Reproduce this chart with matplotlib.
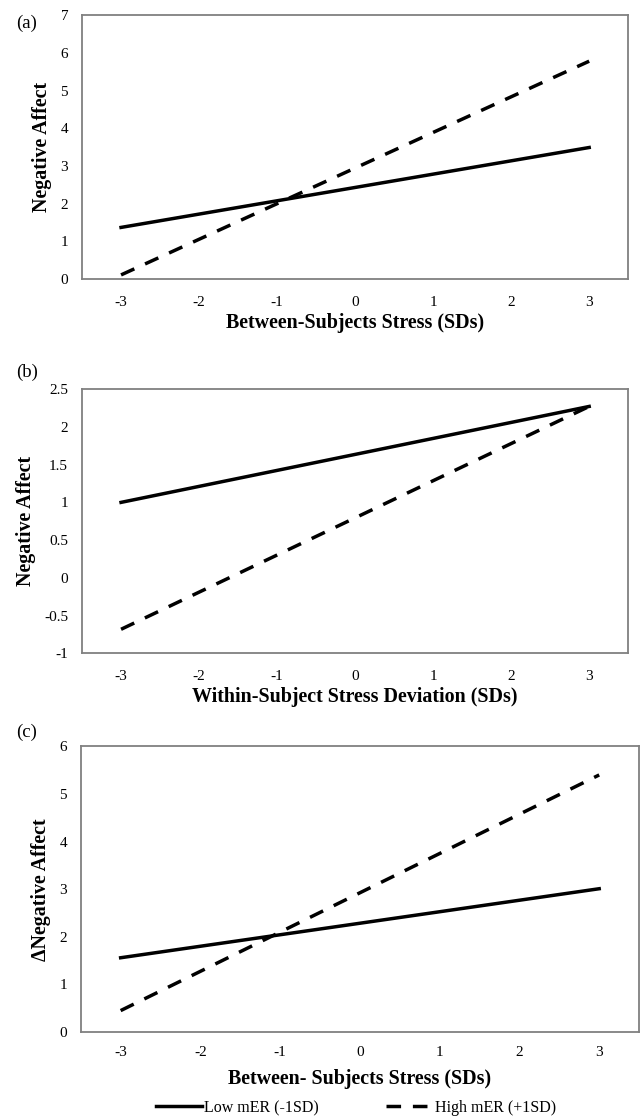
import matplotlib
matplotlib.use("Agg")
import matplotlib.pyplot as plt

# ---- data ----
x_ends = [-3, 3]
a_low = [1.37, 3.49]
a_high = [0.11, 5.78]
b_low = [1.00, 2.27]
b_high = [-0.68, 2.27]
c_low = [1.56, 3.01]
c_high = [0.45, 5.40]

x_ticks = [-3, -2, -1, 0, 1, 2, 3]
a_yticks = [0, 1, 2, 3, 4, 5, 6, 7]
b_yticks = [-1, -0.5, 0, 0.5, 1, 1.5, 2, 2.5]
b_yticklabels = ["-1", "-0.5", "0", "0.5", "1", "1.5", "2", "2.5"]
c_yticks = [0, 1, 2, 3, 4, 5, 6]

plt.rcParams["font.family"] = ["Liberation Serif", "DejaVu Serif"]

fig = plt.figure(figsize=(6.41, 11.18), dpi=100)
axA = fig.add_axes([0.128, 0.7504, 0.852, 0.236])
axB = fig.add_axes([0.128, 0.4155, 0.852, 0.2365])
axC = fig.add_axes([0.126, 0.0769, 0.871, 0.2555])

LW = 2.5
DASH = (0, (4.2, 3.4))

def style(ax, yticks, ylabels, ylim, xlabel, ylabel):
    ax.set_xlim(-3.5, 3.5)
    ax.set_ylim(*ylim)
    ax.set_xticks(x_ticks)
    ax.set_xticklabels([str(v) for v in x_ticks])
    ax.set_yticks(yticks)
    ax.set_yticklabels(ylabels)
    ax.tick_params(length=0, labelsize=11, pad=10)
    ax.tick_params(axis="x", pad=12)
    for s in ax.spines.values():
        s.set_color("#808080")
        s.set_linewidth(1.3)
    ax.set_xlabel(xlabel, fontsize=14.4, fontweight="bold", labelpad=3)
    ax.set_ylabel(ylabel, fontsize=14.4, fontweight="bold", labelpad=6)

# (a)
axA.plot(x_ends, a_low, color="black", lw=LW)
axA.plot(x_ends, a_high, color="black", lw=LW, ls=DASH)
style(axA, a_yticks, [str(v) for v in a_yticks], (0, 7),
      "Between-Subjects Stress (SDs)", "Negative Affect")

# (b)
axB.plot(x_ends, b_low, color="black", lw=LW)
axB.plot(x_ends, b_high, color="black", lw=LW, ls=DASH)
style(axB, b_yticks, b_yticklabels, (-1, 2.5),
      "Within-Subject Stress Deviation (SDs)", "Negative Affect")

# (c)
l1, = axC.plot(x_ends, c_low, color="black", lw=LW, label="Low mER (-1SD)")
l2, = axC.plot(x_ends, c_high, color="black", lw=LW, ls=DASH, label="High mER (+1SD)")
style(axC, c_yticks, [str(v) for v in c_yticks], (0, 6),
      "Between- Subjects Stress (SDs)", "\u0394Negative Affect")
axC.tick_params(axis="x", pad=10)
axC.xaxis.labelpad = 7

# panel tags
for y, tag in [(0.979, "(a)"), (0.667, "(b)"), (0.345, "(c)")]:
    fig.text(0.042, y, tag, fontsize=13.5, ha="center", va="center")

fig.legend(handles=[l1, l2], loc="center", bbox_to_anchor=(0.555, 0.009), ncol=2,
           frameon=False, fontsize=11.5, handlelength=2.9, columnspacing=4.2,
           handletextpad=0.15, borderpad=0, borderaxespad=0)

fig.savefig("out.png", dpi=100)
